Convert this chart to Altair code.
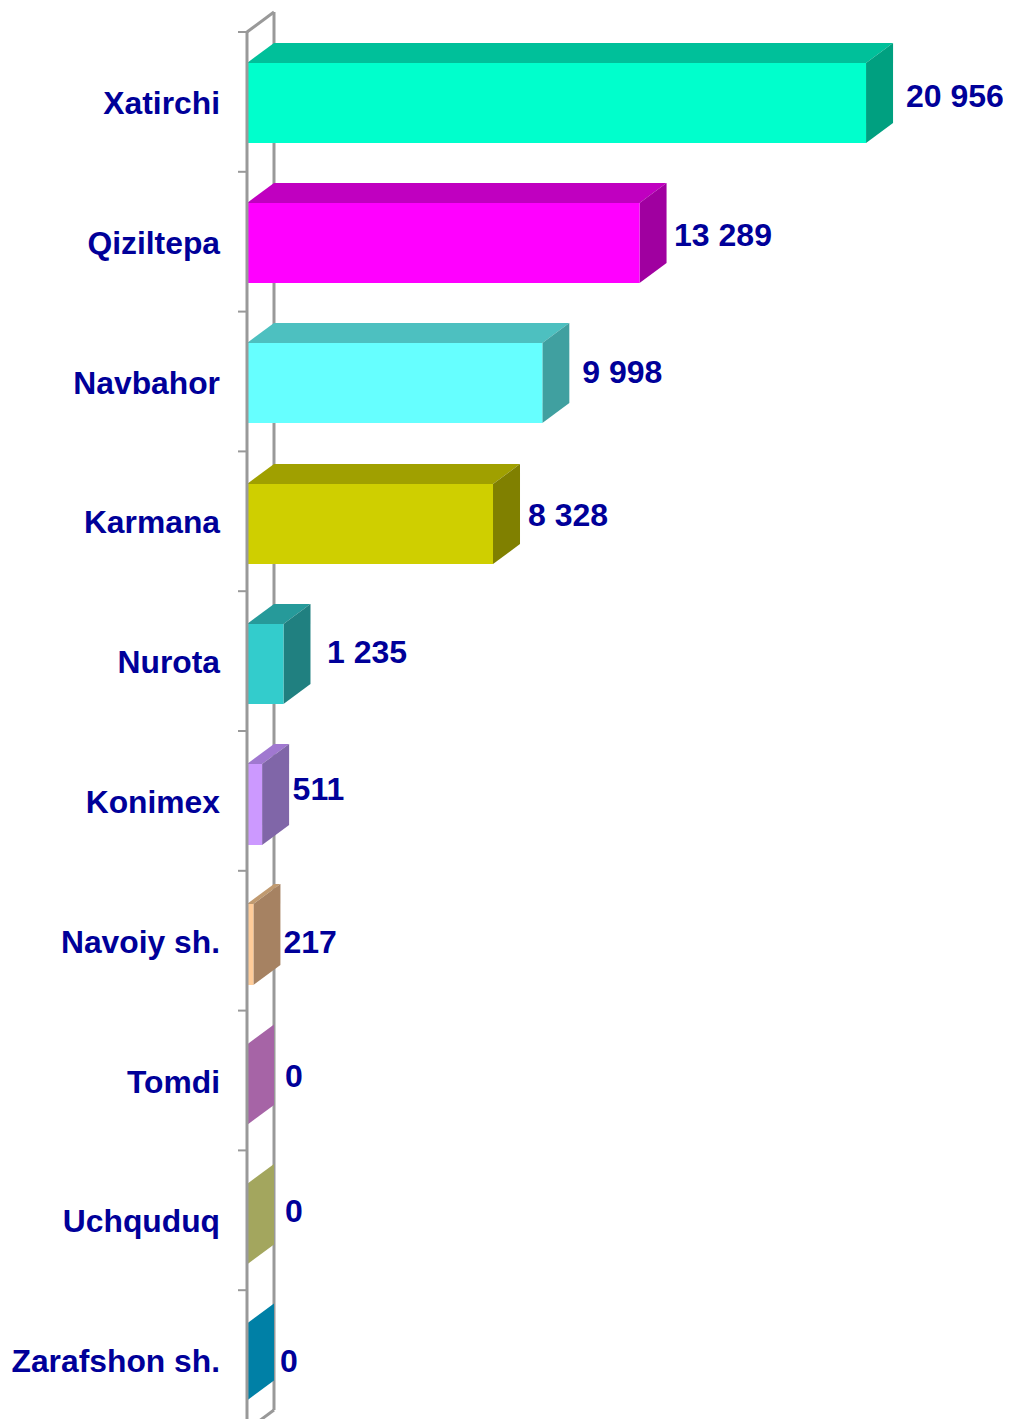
import altair as alt
import pandas as pd

# --- chart values ---
categories = ["Xatirchi", "Qiziltepa", "Navbahor", "Karmana", "Nurota",
              "Konimex", "Navoiy sh.", "Tomdi", "Uchquduq", "Zarafshon sh."]
values = [20956, 13289, 9998, 8328, 1235, 511, 217, 0, 0, 0]
value_labels = ["20 956", "13 289", "9 998", "8 328", "1 235", "511", "217", "0", "0", "0"]

# --- face colours ---
front_colors = ["#00FFCC", "#FF00FF", "#66FFFF", "#CFCF00", "#33CCCC",
                "#CC99FF", "#FFCC99", "#FF99FF", "#FFFF99", "#00CCFF"]
top_colors = ["#00C09A", "#C000C0", "#4DC0C0", "#A0A000", "#269A9A",
              "#A078D0", "#C09A70", "#C070C0", "#C0C070", "#0099C0"]
side_colors = ["#00A080", "#A000A0", "#40A0A0", "#808000", "#208080",
               "#8066A8", "#A68262", "#A664A6", "#A3A65E", "#0080A6"]

# --- layout (pixels) ---
WIDTH, HEIGHT = 756, 1411
LEFT = 239                 # chart origin to value 0
PX_PER_UNIT = 0.02954      # pixels per value unit
ROW = 139.8                # tick pitch
Y_ZERO = 24                # first tick below the chart origin
PAGE_Y_ZERO = 32           # the same tick, measured on the page
DEPTH_X, DEPTH_Y = 27, 20  # 3-D offset
face_top_px = [63, 203, 343, 484, 624, 764, 904, 1044.5, 1184, 1323.5]
face_height_px = [80, 80, 80, 80, 80, 81, 81, 80.5, 80.5, 77]
label_dx = [13, 7.5, 13, 8, 16.5, 3.5, 3, 11, 11, 6]
label_dy = [64.7, 63.9, 61.1, 64.3, 61.5, 58.7, 71.9, 66.1, 61.3, 71.5]

INK = "#000099"
WALL = "#999999"
FONT = "Liberation Sans"

dx = DEPTH_X / PX_PER_UNIT
dr = DEPTH_Y / ROW

front, top, side, texts = [], [], [], []
for i, (c, v) in enumerate(zip(categories, values)):
    a = (face_top_px[i] - PAGE_Y_ZERO) / ROW
    b = a + face_height_px[i] / ROW
    front.append(dict(cat=c, x=0, x2=v, y=a, y2=b, color=front_colors[i]))
    top.append(dict(cat=c, y=a, x=0, x2=v, color=top_colors[i]))
    top.append(dict(cat=c, y=a - dr, x=dx, x2=v + dx, color=top_colors[i]))
    side.append(dict(cat=c, x=v, y=a, y2=b, color=side_colors[i]))
    side.append(dict(cat=c, x=v + dx, y=a - dr, y2=b - dr, color=side_colors[i]))
    texts.append(dict(x=v + dx + label_dx[i] / PX_PER_UNIT,
                      y=i + label_dy[i] / ROW, text=value_labels[i]))

label_expr = "[" + ",".join(f"'{c}'" for c in categories) + "][floor(datum.value)]"
row_axis = alt.Axis(
    values=[i + 0.5 for i in range(len(categories))],
    labelExpr=label_expr, title=None, domain=False, grid=False, ticks=False,
    labelFont=FONT, labelFontSize=31.8, labelFontWeight="bold", labelColor=INK,
    labelPadding=27.5, labelLimit=400, labelOverlap=False, labelBaseline="middle",
    labelFlush=False, labelOffset=1.5,
)

x_scale = alt.Scale(domain=[0, WIDTH / PX_PER_UNIT], nice=False, zero=False)
y_scale = alt.Scale(domain=[-Y_ZERO / ROW, (HEIGHT - Y_ZERO) / ROW],
                    nice=False, zero=False, reverse=True)
X = alt.X("x:Q", scale=x_scale, axis=None)
Y = alt.Y("y:Q", scale=y_scale, axis=row_axis)
color = alt.Color("color:N", scale=None, legend=None)

# walls: the tick stubs, the two uprights and the top/bottom edges
n = len(categories)
tick_df = pd.DataFrame({"x": [-9 / PX_PER_UNIT] * n, "x2": [0] * n, "y": list(range(n))})
ticks = alt.Chart(tick_df).mark_rule(color=WALL, strokeWidth=2).encode(x=X, x2="x2:Q", y=Y)

back_df = pd.DataFrame({"x": [dx], "y": [-dr], "y2": [n - dr]})
back = alt.Chart(back_df).mark_rule(color=WALL, strokeWidth=3).encode(x=X, y=Y, y2="y2:Q")
front_df = pd.DataFrame({"x": [0], "y": [0], "y2": [n]})
upright = alt.Chart(front_df).mark_rule(color=WALL, strokeWidth=3).encode(x=X, y=Y, y2="y2:Q")
edge_df = pd.DataFrame({"x": [0, dx, 0, dx], "y": [0, -dr, n, n - dr], "e": ["a", "a", "b", "b"]})
edges = alt.Chart(edge_df).mark_line(color=WALL, strokeWidth=3).encode(
    x=X, y=Y, detail="e:N")

top_layer = alt.Chart(pd.DataFrame(top)).mark_area(orient="horizontal").encode(
    x=X, x2="x2:Q", y=Y, color=color, detail="cat:N")
side_layer = alt.Chart(pd.DataFrame(side)).mark_area(orient="vertical").encode(
    x=X, y=Y, y2="y2:Q", color=color, detail="cat:N")
front_layer = alt.Chart(pd.DataFrame(front)).mark_rect().encode(
    x=X, x2="x2:Q", y=Y, y2="y2:Q", color=color)
text_layer = alt.Chart(pd.DataFrame(texts)).mark_text(
    align="left", baseline="middle", font=FONT, fontSize=32, fontWeight="bold", color=INK
).encode(x=X, y=Y, text="text:N")

chart = alt.layer(
    ticks, back, edges, top_layer, side_layer, front_layer, upright, text_layer
).properties(
    width=WIDTH, height=HEIGHT,
    padding={"left": LEFT, "top": 0, "right": 0, "bottom": 0},
    autosize=alt.AutoSizeParams(type="none"),
).configure_view(stroke=None)

chart.save("out.html", embed_options={"renderer": "svg", "actions": False})
